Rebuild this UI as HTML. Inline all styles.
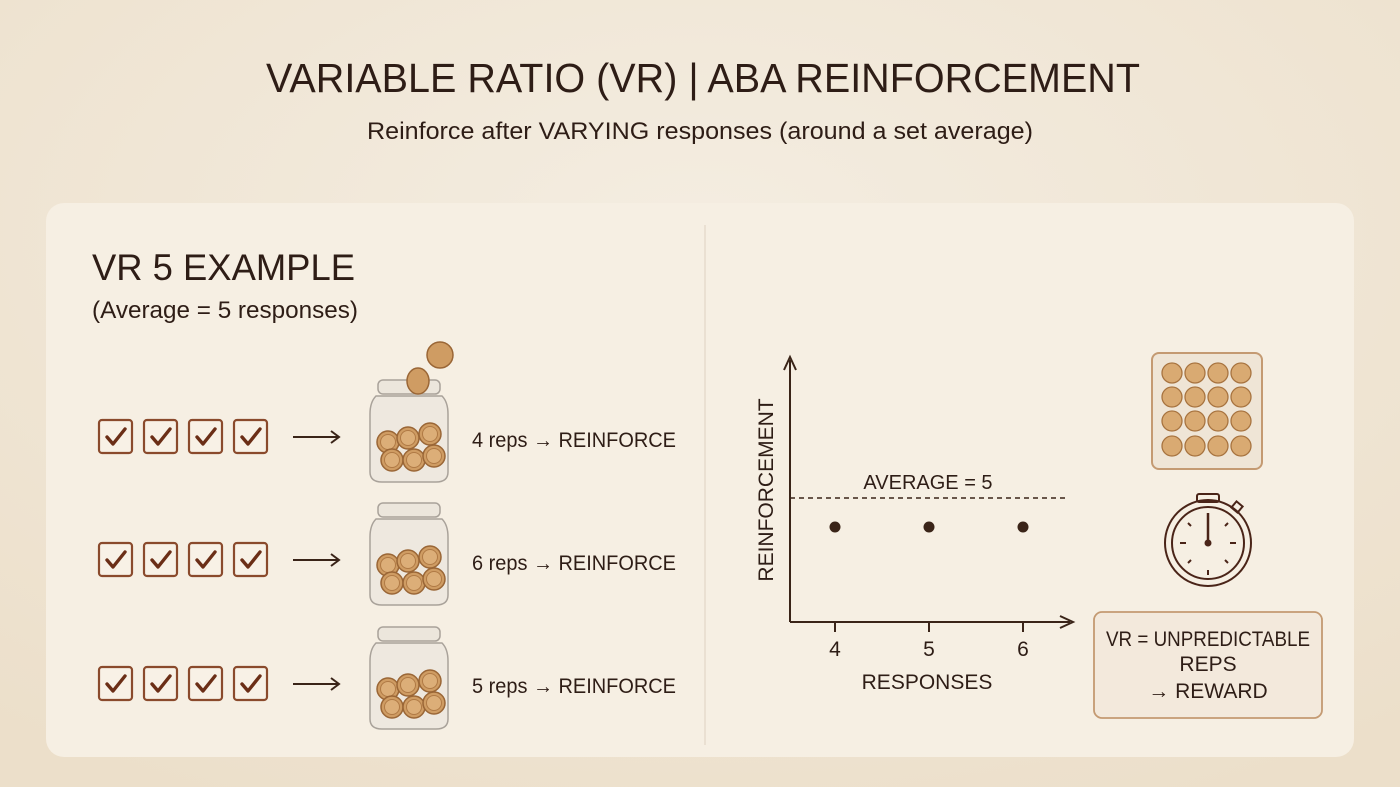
<!DOCTYPE html>
<html><head><meta charset="utf-8"><style>
html,body{margin:0;padding:0;width:1400px;height:787px;overflow:hidden;background:#f1e8da;}
svg{display:block;font-family:"Liberation Sans",sans-serif;}
</style></head><body>
<svg width="1400" height="787" viewBox="0 0 1400 787">
<defs>
<radialGradient id="bg" cx="0.5" cy="0.3" r="0.8"><stop offset="0" stop-color="#f4ede1"/><stop offset="1" stop-color="#ecdfca"/></radialGradient>
<g id="chk"><rect x="0" y="0" width="33" height="33" rx="3" fill="#f8f1e6" stroke="#8a4a2c" stroke-width="2.2"/><path d="M8 17 L14 24 L26 9" fill="none" stroke="#6b2e16" stroke-width="3.4" stroke-linecap="round" stroke-linejoin="round"/></g>
<g id="row"><use href="#chk" x="0"/><use href="#chk" x="45"/><use href="#chk" x="90"/><use href="#chk" x="135"/>
<path d="M194 17 H240 M232 11 L240 17 L232 23" fill="none" stroke="#3a2418" stroke-width="2"/></g>
<g id="coin"><circle r="11" fill="#cf9c63" stroke="#9a6636" stroke-width="1.5"/><circle r="7.5" fill="#dcae78" stroke="#b07a45" stroke-width="1"/></g>
<g id="jar">
<rect x="8" y="0" width="62" height="14" rx="5" fill="#ece6dc" stroke="#a9a29a" stroke-width="1.5"/>
<path d="M6 16 Q0 22 0 34 V92 Q0 102 12 102 H66 Q78 102 78 92 V34 Q78 22 72 16 Z" fill="#eee8df" stroke="#a9a29a" stroke-width="1.5"/>
<use href="#coin" x="18" y="62"/><use href="#coin" x="38" y="58"/><use href="#coin" x="60" y="54"/>
<use href="#coin" x="22" y="80"/><use href="#coin" x="44" y="80"/><use href="#coin" x="64" y="76"/>
</g>
</defs>
<rect width="1400" height="787" fill="url(#bg)"/>
<text x="266" y="92" textLength="874" lengthAdjust="spacingAndGlyphs" font-size="41" fill="#2e1d16">VARIABLE RATIO (VR) | ABA REINFORCEMENT</text>
<text x="367" y="139" textLength="666" lengthAdjust="spacingAndGlyphs" font-size="24" fill="#2e1d16">Reinforce after VARYING responses (around a set average)</text>
<rect x="46" y="203" width="1308" height="554" rx="18" fill="#f6efe3"/>
<line x1="705" y1="225" x2="705" y2="745" stroke="#e6dccd" stroke-width="1.5"/>
<text x="92" y="280" textLength="263" lengthAdjust="spacingAndGlyphs" font-size="37" fill="#2e1d16">VR 5 EXAMPLE</text>
<text x="92" y="318" textLength="266" lengthAdjust="spacingAndGlyphs" font-size="24" fill="#2e1d16">(Average = 5 responses)</text>

<use href="#row" x="99" y="420"/><use href="#row" x="99" y="543"/><use href="#row" x="99" y="667"/>
<use href="#jar" x="370" y="380"/><use href="#jar" x="370" y="503"/><use href="#jar" x="370" y="627"/>
<circle cx="440" cy="355" r="13" fill="#cf9c63" stroke="#9a6636" stroke-width="1.5"/>
<ellipse cx="418" cy="381" rx="11" ry="13" fill="#cf9c63" stroke="#9a6636" stroke-width="1.5"/>
<g font-size="21" fill="#2e1d16">
<text x="472" y="447" textLength="204" lengthAdjust="spacingAndGlyphs">4 reps → REINFORCE</text>
<text x="472" y="570" textLength="204" lengthAdjust="spacingAndGlyphs">6 reps → REINFORCE</text>
<text x="472" y="693" textLength="204" lengthAdjust="spacingAndGlyphs">5 reps → REINFORCE</text>
</g>

<g stroke="#3a2418" stroke-width="2" fill="none">
<path d="M790 622 V360 M784 370 L790 357 L796 370"/>
<path d="M790 622 H1070 M1060 616 L1073 622 L1060 628"/>
<path d="M835 622 V632 M929 622 V632 M1023 622 V632"/>
</g>
<line x1="790" y1="498" x2="1068" y2="498" stroke="#3a2418" stroke-width="1.5" stroke-dasharray="5 4"/>
<text x="928" y="489" text-anchor="middle" font-size="20" fill="#2e1d16">AVERAGE = 5</text>
<circle cx="835" cy="527" r="5.5" fill="#3a2418"/><circle cx="929" cy="527" r="5.5" fill="#3a2418"/><circle cx="1023" cy="527" r="5.5" fill="#3a2418"/>
<g font-size="21" fill="#2e1d16" text-anchor="middle">
<text x="835" y="656">4</text><text x="929" y="656">5</text><text x="1023" y="656">6</text>
<text x="927" y="689">RESPONSES</text>
<text transform="translate(773,490) rotate(-90)">REINFORCEMENT</text>
</g>

<rect x="1152" y="353" width="110" height="116" rx="7" fill="#efe5d6" stroke="#c49a72" stroke-width="2"/>
<g fill="#d9aa72" stroke="#a87440" stroke-width="1.3">
<circle cx="1172" cy="373" r="10"/><circle cx="1195" cy="373" r="10"/><circle cx="1218" cy="373" r="10"/><circle cx="1241" cy="373" r="10"/>
<circle cx="1172" cy="397" r="10"/><circle cx="1195" cy="397" r="10"/><circle cx="1218" cy="397" r="10"/><circle cx="1241" cy="397" r="10"/>
<circle cx="1172" cy="421" r="10"/><circle cx="1195" cy="421" r="10"/><circle cx="1218" cy="421" r="10"/><circle cx="1241" cy="421" r="10"/>
<circle cx="1172" cy="446" r="10"/><circle cx="1195" cy="446" r="10"/><circle cx="1218" cy="446" r="10"/><circle cx="1241" cy="446" r="10"/>
</g>
<g stroke="#4a2418" fill="none" stroke-width="2">
<rect x="1197" y="494" width="22" height="8" rx="2"/>
<rect x="1233" y="503" width="8" height="8" transform="rotate(40 1237 507)"/>
<circle cx="1208" cy="543" r="43"/><circle cx="1208" cy="543" r="36"/>
<line x1="1208" y1="513" x2="1208" y2="543" stroke-width="2.5"/>
<path d="M1208 570 V575 M1180 543 H1186 M1230 543 H1236 M1188 523 l3 3 M1228 523 l-3 3 M1188 563 l3 -3 M1228 563 l-3 -3"/>
</g>
<circle cx="1208" cy="543" r="3.5" fill="#4a2418"/>
<rect x="1094" y="612" width="228" height="106" rx="8" fill="#f3e9dc" stroke="#c49a72" stroke-width="1.8"/>
<g font-size="21" fill="#2e1d16" text-anchor="middle">
<text x="1208" y="646" textLength="204" lengthAdjust="spacingAndGlyphs">VR = UNPREDICTABLE</text><text x="1208" y="671">REPS</text><text x="1208" y="698">→ REWARD</text>
</g>
</svg>
</body></html>
